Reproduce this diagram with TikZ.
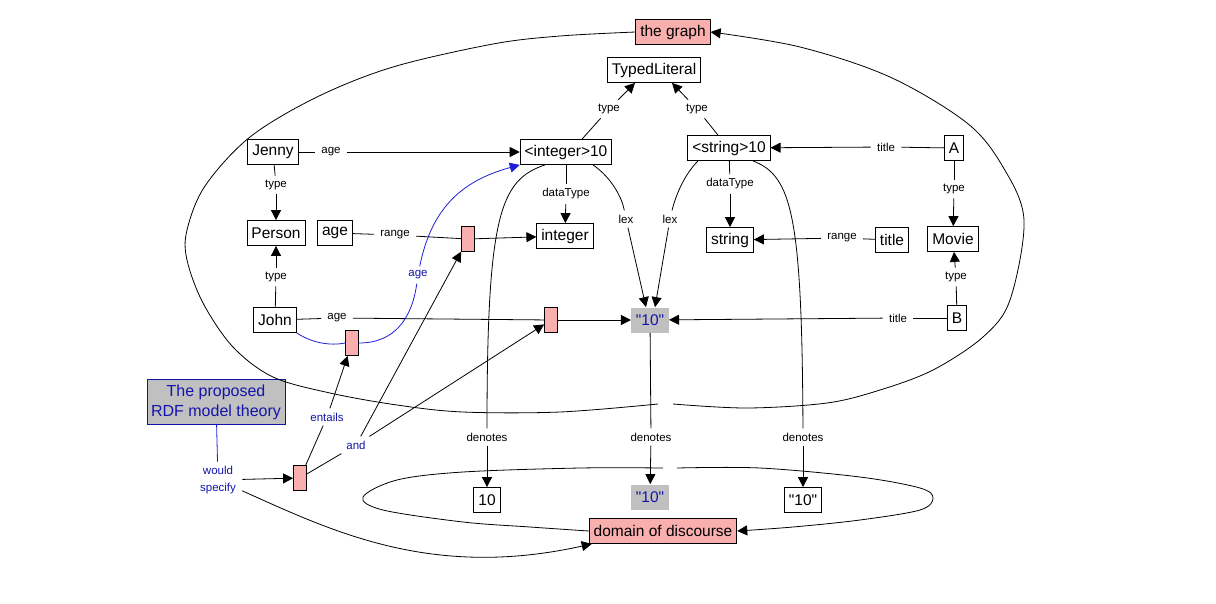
\documentclass[tikz,border=0pt]{standalone}
\usepackage{fontspec}
\setmainfont{Liberation Sans}[Ligatures=TeXOff]
\usetikzlibrary{arrows.meta}
\definecolor{pinkf}{RGB}{250,175,175}
\definecolor{grayf}{RGB}{192,192,192}
\definecolor{navy}{RGB}{20,20,170}
\definecolor{bcurve}{RGB}{30,30,215}
\begin{document}
\begin{tikzpicture}[x=1pt,y=-1pt, line width=0.8pt,
  box/.style={draw, fill=white, font=\fontsize{15.5}{18}\selectfont, inner xsep=4.5pt, inner ysep=0pt, minimum height=25pt},
  pbox/.style={box, fill=pinkf},
  gbox/.style={fill=grayf, text=navy, font=\fontsize{15.5}{18}\selectfont, inner xsep=4.5pt, inner ysep=0pt, minimum height=25pt},
  theory/.style={draw=navy, fill=grayf, text=navy, font=\fontsize{16}{20}\selectfont, align=center, minimum width=138pt, minimum height=45pt, inner sep=1pt},
  stmt/.style={draw, fill=pinkf, minimum width=13pt, minimum height=25pt, inner sep=0pt},
  lab/.style={fill=white, font=\fontsize{11.5}{13}\selectfont, inner xsep=6pt, inner ysep=4pt},
  blab/.style={lab, text=navy},
  arr/.style={-{Triangle[length=10pt,width=10pt]}},
  bline/.style={draw=bcurve}
]
\useasboundingbox (0,0) rectangle (1216,603);

% nodes
\node[pbox] (graph) at (673,32) {the graph};
\node[box] (tl) at (654,70) {TypedLiteral};
\node[box] (jenny) at (273,152) {Jenny};
\node[box] (int10) at (566,152) {<integer>10};
\node[box] (str10) at (729,148) {<string>10};
\node[box] (A) at (954,148) {A};
\node[box] (person) at (276,233) {Person};
\node[box] (agebox) at (335,233) {age};
\node[box] (integer) at (565,236) {integer};
\node[box] (string) at (730,240) {string};
\node[box] (titlebox) at (892,240) {title};
\node[box] (movie) at (953,239) {Movie};
\node[box] (john) at (275,320) {John};
\node[box] (B) at (957,318) {B};
\node[gbox] (q10) at (650,320) {"10"};
\node[theory] (theory) at (216,402) {The proposed\\RDF model theory};
\node[stmt] (s1) at (352,343) {};
\node[stmt] (s2) at (468,239) {};
\node[stmt] (s3) at (551,320) {};
\node[stmt] (s4) at (300,478) {};
\node[box] (ten) at (487,500) {10};
\node[gbox] (q10d) at (650,497) {"10"};
\node[box] (q10s) at (803,500) {"10"};
\node[pbox] (dod) at (663,531) {domain of discourse};

% labels
\node[lab] (lJa) at (331,152) {age};
\node[lab] (lJt) at (276,185) {type};
\node[lab] (lJnt) at (276,277) {type};
\node[lab] (lJna) at (337,318) {age};
\node[lab] (lr1) at (395,235) {range};
\node[lab] (ldt1) at (566,194) {dataType};
\node[lab] (lt1) at (609,109) {type};
\node[lab] (lt2) at (697,109) {type};
\node[lab] (ldt2) at (730,184) {dataType};
\node[lab] (lAt) at (886,147) {title};
\node[lab] (lAty) at (954,189) {type};
\node[lab] (lr2) at (842,238) {range};
\node[lab] (lBt) at (956,277) {type};
\node[lab] (lBti) at (898,318) {title};
\node[lab] (lex1) at (626,219) {lex};
\node[lab] (lex2) at (670,219) {lex};
\node[lab] (den1) at (487,437) {denotes};
\node[lab] (den2) at (651,437) {denotes};
\node[lab] (den3) at (803,437) {denotes};
\node[blab] (bage) at (418,275) {age};
\node[blab] (lent) at (327,417) {entails};
\node[blab] (land) at (356,445) {and};
\node[blab, align=center, font=\fontsize{11.5}{17}\selectfont] (ws) at (218,480) {would\\specify};

% straight edges
\draw (jenny) -- (lJa); \draw[arr] (lJa) -- (int10);
\draw (jenny) -- (lJt); \draw[arr] (lJt) -- (person);
\draw (john) -- (lJnt); \draw[arr] (lJnt) -- (person);
\draw (john) -- (lJna); \draw (lJna) -- (s3); \draw[arr] (s3) -- (q10);
\draw (agebox) -- (lr1); \draw (lr1) -- (s2); \draw[arr] (s2) -- (integer);
\draw (int10) -- (ldt1); \draw[arr] (ldt1) -- (integer);
\draw ([xshift=16pt]int10.north) -- (lt1); \draw[arr] (lt1) -- ([xshift=-19pt]tl.south);
\draw ([xshift=-11pt]str10.north) -- (lt2); \draw[arr] (lt2) -- ([xshift=18pt]tl.south);
\draw (str10) -- (ldt2); \draw[arr] (ldt2) -- (string);
\draw (A) -- (lAt); \draw[arr] (lAt) -- (str10);
\draw (A) -- (lAty); \draw[arr] (lAty) -- (movie);
\draw (titlebox) -- (lr2); \draw[arr] (lr2) -- (string);
\draw (B) -- (lBt); \draw[arr] (lBt) -- (movie);
\draw (B) -- (lBti); \draw[arr] (lBti) -- (q10);

% lex
\draw ([xshift=27pt]int10.south) .. controls (612,178) and (622,198) .. (lex1);
\draw[arr] (lex1) -- ([xshift=-4pt]q10.north);
\draw ([xshift=-31pt]str10.south) .. controls (683,176) and (675,198) .. (lex2);
\draw[arr] (lex2) -- ([xshift=5pt]q10.north);

% denotes
\draw ([xshift=-21pt]int10.south) .. controls (500,180) and (487,215) .. (den1);
\draw[arr] (den1) -- (ten);
\draw (q10) -- (den2); \draw[arr] (den2) -- (q10d);
\draw ([xshift=24pt]str10.south) .. controls (792,176) and (802,215) .. (den3);
\draw[arr] (den3) -- (q10s);

% blue reified age
\draw[bline] (john.south east) .. controls (312,343) and (330,346) .. (s1.west);
\draw[bline] (s1.east) .. controls (395,343) and (412,318) .. (bage);
\draw[bline, arr] (bage) .. controls (432,205) and (465,180) .. (int10.south west);

% entailment
\draw (s4) -- (lent); \draw[arr] (lent) -- (s1);
\draw (s4) -- (land); \draw[arr] (land) -- (s2); \draw[arr] (land) -- (s3);
\draw[bline] (theory) -- (ws);
\draw[arr] (ws) -- (s4);
\draw[arr] (ws) .. controls (330,530) and (430,580) .. ([xshift=3pt]dod.south west);

% big loop around the graph
\coordinate (g1) at (658,404);
\coordinate (g2) at (673,404);
\draw plot[smooth, tension=0.55] coordinates {(graph.west) (560,36) (493,44) (393,67) (317,97) (250,137) (205,186) (187,230) (187,260) (203,303) (233,347) (273,377) (330,393) (397,405) (463,412) (560,412) (g1)};
\draw[arr] plot[smooth, tension=0.55] coordinates {(g2) (747,408) (827,403) (880,390) (933,370) (983,337) (1010,300) (1024,220) (1003,167) (967,123) (890,77) (800,47) (graph.east)};

% loop around domain of discourse
\coordinate (h1) at (663,468);
\coordinate (h2) at (677,468);
\draw plot[smooth, tension=0.55] coordinates {(dod.west) (530,527) (463,522) (383,510) (363,497) (397,480) (463,472) (580,468) (h1)};
\draw[arr] plot[smooth, tension=0.55] coordinates {(h2) (760,468) (860,477) (920,488) (933,498) (920,510) (860,520) (793,527) (dod.east)};
\end{tikzpicture}
\end{document}
